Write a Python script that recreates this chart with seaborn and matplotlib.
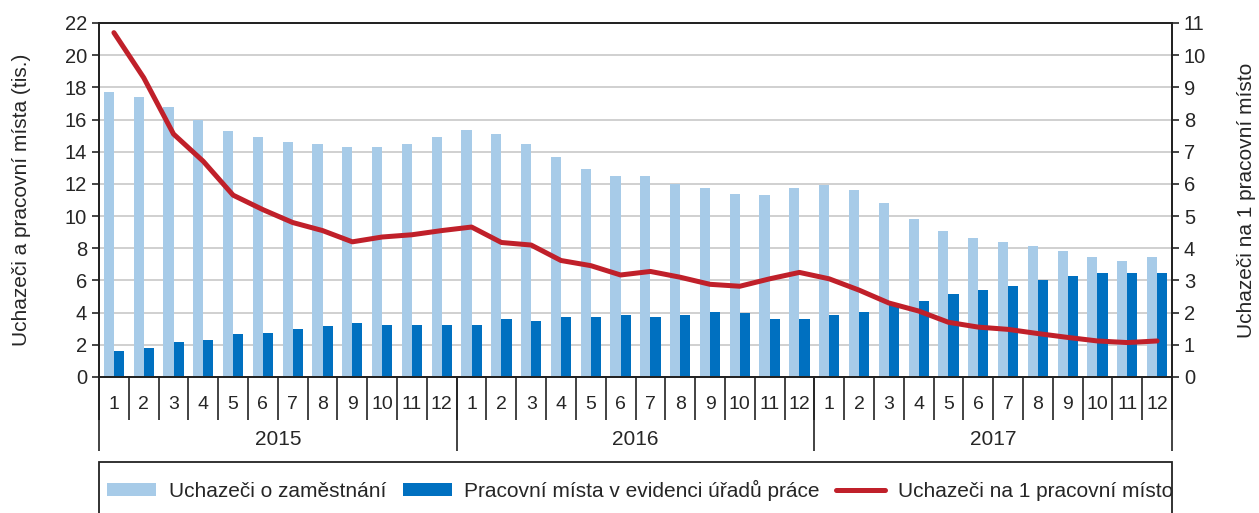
import numpy as np
import pandas as pd
import matplotlib
matplotlib.use('Agg')
import matplotlib.pyplot as plt
import seaborn as sns
from matplotlib.lines import Line2D
from matplotlib.patches import Rectangle

years = ['2015', '2016', '2017']
months = [str(m) for m in range(1, 13)]

# uchazeci o zamestnani (tis.)
uchazeci = [17.7, 17.4, 16.8, 16.0, 15.3, 14.9, 14.6, 14.5, 14.3, 14.3, 14.5, 14.9,
            15.35, 15.1, 14.5, 13.7, 12.9, 12.5, 12.5, 12.0, 11.75, 11.4, 11.3, 11.75,
            11.95, 11.6, 10.8, 9.8, 9.1, 8.65, 8.4, 8.15, 7.8, 7.45, 7.2, 7.45]
# pracovni mista v evidenci uradu prace (tis.)
mista = [1.6, 1.8, 2.15, 2.3, 2.65, 2.75, 3.0, 3.15, 3.35, 3.25, 3.25, 3.25,
         3.25, 3.6, 3.5, 3.7, 3.7, 3.85, 3.7, 3.85, 4.05, 3.95, 3.6, 3.6,
         3.85, 4.05, 4.5, 4.7, 5.15, 5.4, 5.65, 6.0, 6.25, 6.45, 6.45, 6.45]
# uchazeci na 1 pracovni misto
pomer = [10.7, 9.3, 7.55, 6.7, 5.65, 5.2, 4.8, 4.55, 4.2, 4.35, 4.42, 4.55,
         4.66, 4.18, 4.1, 3.62, 3.46, 3.17, 3.28, 3.1, 2.88, 2.82, 3.05, 3.25,
         3.05, 2.7, 2.3, 2.05, 1.7, 1.55, 1.48, 1.35, 1.23, 1.12, 1.07, 1.12]

lbl_a = 'Uchazeči o zaměstnání'
lbl_b = 'Pracovní místa v evidenci úřadů práce'
lbl_c = 'Uchazeči na 1 pracovní místo'

light = '#a7cbe8'
dark = '#0070c0'
red = '#c0202a'
ink = '#222222'

n = len(uchazeci)
pos = np.arange(n)
df = pd.DataFrame({
    'pos': np.concatenate([pos, pos]),
    'val': uchazeci + mista,
    'series': [lbl_a] * n + [lbl_b] * n,
})

sns.set_style('ticks')
plt.rcParams['font.family'] = ['Liberation Sans', 'DejaVu Sans']
plt.rcParams['axes.edgecolor'] = ink

fig = plt.figure(figsize=(12.59, 5.13), dpi=100)
ax = fig.add_axes([99 / 1259, 1 - 377 / 513, (1172 - 99) / 1259, (377 - 23) / 513])

sns.barplot(data=df, x='pos', y='val', hue='series', palette=[light, dark],
            width=0.68, gap=0, saturation=1, linewidth=0, ax=ax)
handles, labels = ax.get_legend_handles_labels()
ax.get_legend().remove()

ax.set_ylim(0, 22)
ax.set_yticks(range(0, 23, 2))
ax.yaxis.grid(True, color='#c8c8c8', linewidth=1.2)
ax.set_axisbelow(True)
ax.set_xlim(-0.5, n - 0.5)
ax.set_xlabel('')
ax.set_ylabel('Uchazeči a pracovní místa (tis.)', fontsize=15, labelpad=24)
ax.tick_params(axis='y', labelsize=14.5, length=5, width=1.2, direction='out')

# month labels and separators
ax.set_xticks(pos)
ax.set_xticklabels(months * 3, fontsize=14)
ax.tick_params(axis='x', which='major', length=0, pad=14)
ax.set_xticks(np.arange(-0.5, n, 1), minor=True)
ax.tick_params(axis='x', which='minor', length=31, width=1.2, color=ink)

# year labels and separators
sec = ax.secondary_xaxis('bottom')
sec.set_xticks([-0.5, 11.5, 23.5, 35.5])
sec.set_xticklabels([''] * 4)
sec.tick_params(axis='x', which='major', length=53, width=1.2, color=ink)
sec.set_xticks([5.5, 17.5, 29.5], minor=True)
sec.set_xticklabels(years, minor=True, fontsize=15)
sec.tick_params(axis='x', which='minor', length=0, pad=38)
sec.spines['bottom'].set_visible(False)

ax2 = ax.twinx()
sns.lineplot(x=pos, y=pomer, ax=ax2, color=red, linewidth=3.6)
ax2.set_ylim(0, 11)
ax2.set_yticks(range(0, 12))
ax2.set_ylabel(lbl_c, fontsize=15, labelpad=22)
ax2.tick_params(axis='y', labelsize=14.5, length=5, width=1.2, direction='out')
ax.set_xlim(-0.5, n - 0.5)

for a in (ax, ax2):
    for s in a.spines.values():
        s.set_visible(True)
        s.set_linewidth(1.3)
        s.set_color(ink)

# legend box (runs off the bottom edge like in the source)
fig.add_artist(Rectangle((99 / 1259, -0.05), (1172 - 99) / 1259, 0.05 + (513 - 462) / 513,
                         transform=fig.transFigure, fill=False, edgecolor=ink,
                         linewidth=1.3))
handles = handles + [Line2D([0], [0], color=red, linewidth=3.6)]
labels = labels + [lbl_c]
fig.legend(handles, labels, loc='center left', ncol=3,
           bbox_to_anchor=(99 / 1259, 1 - 490 / 513),
           fontsize=15, frameon=False, borderpad=0.4,
           handlelength=2.35, handleheight=0.6, handletextpad=0.6,
           columnspacing=0.8, borderaxespad=0)

fig.savefig('out.png', dpi=100)
